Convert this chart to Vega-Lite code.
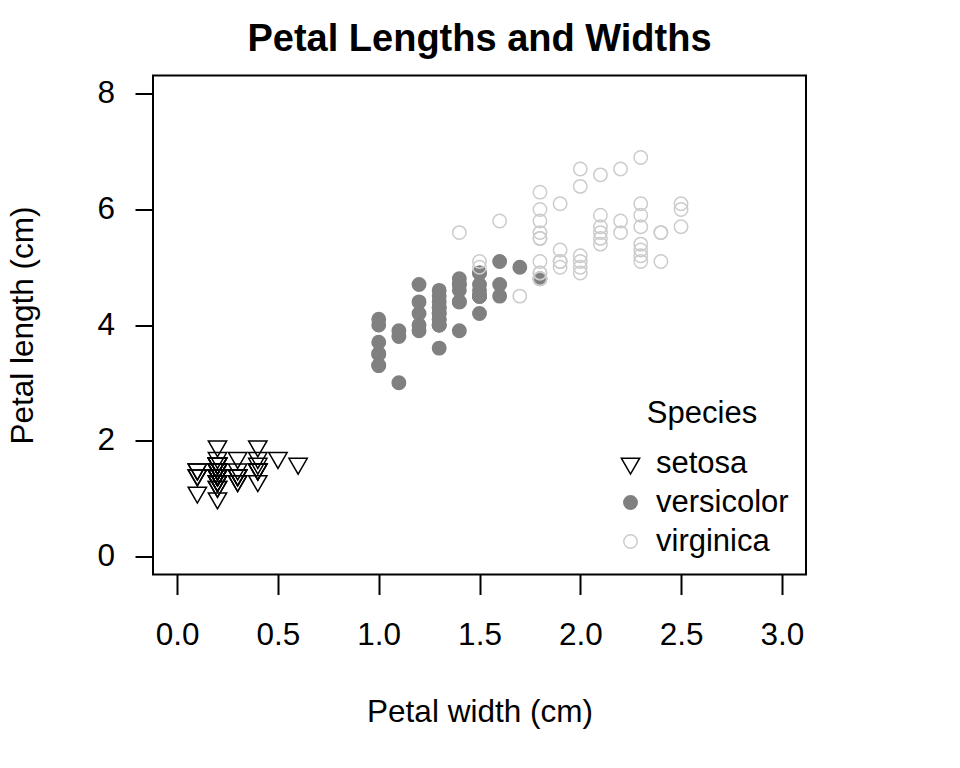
{
  "$schema": "https://vega.github.io/schema/vega-lite/v6.json",
  "width": 653,
  "height": 499,
  "autosize": {"type": "none"},
  "padding": {"left": 153, "top": 75.5, "right": 154, "bottom": 193.5},
  "background": "white",
  "config": {
    "font": "Liberation Sans",
    "view": {"stroke": "black", "strokeWidth": 2},
    "axis": {"grid": false, "domain": false, "tickColor": "black", "tickWidth": 2, "labelColor": "black", "titleColor": "black", "labelFontSize": 31.5, "titleFontSize": 31.5, "titleFontWeight": "normal", "labelFont": "Liberation Sans", "titleFont": "Liberation Sans"}
  },
  "title": {"text": "Petal Lengths and Widths", "fontSize": 38, "fontWeight": "bold", "font": "Liberation Sans", "color": "black", "anchor": "middle", "baseline": "alphabetic", "offset": -13.5},
  "data": {"values": [
    {"Species":"setosa","w":0.2,"l":1.4},{"Species":"setosa","w":0.2,"l":1.4},{"Species":"setosa","w":0.2,"l":1.3},{"Species":"setosa","w":0.2,"l":1.5},{"Species":"setosa","w":0.2,"l":1.4},
    {"Species":"setosa","w":0.4,"l":1.7},{"Species":"setosa","w":0.3,"l":1.4},{"Species":"setosa","w":0.2,"l":1.5},{"Species":"setosa","w":0.2,"l":1.4},{"Species":"setosa","w":0.1,"l":1.5},
    {"Species":"setosa","w":0.2,"l":1.5},{"Species":"setosa","w":0.2,"l":1.6},{"Species":"setosa","w":0.1,"l":1.4},{"Species":"setosa","w":0.1,"l":1.1},{"Species":"setosa","w":0.2,"l":1.2},
    {"Species":"setosa","w":0.4,"l":1.5},{"Species":"setosa","w":0.4,"l":1.3},{"Species":"setosa","w":0.3,"l":1.4},{"Species":"setosa","w":0.3,"l":1.7},{"Species":"setosa","w":0.3,"l":1.5},
    {"Species":"setosa","w":0.2,"l":1.7},{"Species":"setosa","w":0.4,"l":1.5},{"Species":"setosa","w":0.2,"l":1.0},{"Species":"setosa","w":0.5,"l":1.7},{"Species":"setosa","w":0.2,"l":1.9},
    {"Species":"setosa","w":0.2,"l":1.6},{"Species":"setosa","w":0.4,"l":1.6},{"Species":"setosa","w":0.2,"l":1.5},{"Species":"setosa","w":0.2,"l":1.4},{"Species":"setosa","w":0.2,"l":1.6},
    {"Species":"setosa","w":0.2,"l":1.6},{"Species":"setosa","w":0.4,"l":1.5},{"Species":"setosa","w":0.1,"l":1.5},{"Species":"setosa","w":0.2,"l":1.4},{"Species":"setosa","w":0.2,"l":1.5},
    {"Species":"setosa","w":0.2,"l":1.2},{"Species":"setosa","w":0.2,"l":1.3},{"Species":"setosa","w":0.1,"l":1.4},{"Species":"setosa","w":0.2,"l":1.3},{"Species":"setosa","w":0.2,"l":1.5},
    {"Species":"setosa","w":0.3,"l":1.3},{"Species":"setosa","w":0.3,"l":1.3},{"Species":"setosa","w":0.2,"l":1.3},{"Species":"setosa","w":0.6,"l":1.6},{"Species":"setosa","w":0.4,"l":1.9},
    {"Species":"setosa","w":0.3,"l":1.4},{"Species":"setosa","w":0.2,"l":1.6},{"Species":"setosa","w":0.2,"l":1.4},{"Species":"setosa","w":0.2,"l":1.5},{"Species":"setosa","w":0.2,"l":1.4},
    {"Species":"versicolor","w":1.4,"l":4.7},{"Species":"versicolor","w":1.5,"l":4.5},{"Species":"versicolor","w":1.5,"l":4.9},{"Species":"versicolor","w":1.3,"l":4.0},{"Species":"versicolor","w":1.5,"l":4.6},
    {"Species":"versicolor","w":1.3,"l":4.5},{"Species":"versicolor","w":1.6,"l":4.7},{"Species":"versicolor","w":1.0,"l":3.3},{"Species":"versicolor","w":1.3,"l":4.6},{"Species":"versicolor","w":1.4,"l":3.9},
    {"Species":"versicolor","w":1.0,"l":3.5},{"Species":"versicolor","w":1.5,"l":4.2},{"Species":"versicolor","w":1.0,"l":4.0},{"Species":"versicolor","w":1.4,"l":4.7},{"Species":"versicolor","w":1.3,"l":3.6},
    {"Species":"versicolor","w":1.4,"l":4.4},{"Species":"versicolor","w":1.5,"l":4.5},{"Species":"versicolor","w":1.0,"l":4.1},{"Species":"versicolor","w":1.5,"l":4.5},{"Species":"versicolor","w":1.1,"l":3.9},
    {"Species":"versicolor","w":1.8,"l":4.8},{"Species":"versicolor","w":1.3,"l":4.0},{"Species":"versicolor","w":1.5,"l":4.9},{"Species":"versicolor","w":1.2,"l":4.7},{"Species":"versicolor","w":1.3,"l":4.3},
    {"Species":"versicolor","w":1.4,"l":4.4},{"Species":"versicolor","w":1.4,"l":4.8},{"Species":"versicolor","w":1.7,"l":5.0},{"Species":"versicolor","w":1.5,"l":4.5},{"Species":"versicolor","w":1.0,"l":3.5},
    {"Species":"versicolor","w":1.1,"l":3.8},{"Species":"versicolor","w":1.0,"l":3.7},{"Species":"versicolor","w":1.2,"l":3.9},{"Species":"versicolor","w":1.6,"l":5.1},{"Species":"versicolor","w":1.5,"l":4.5},
    {"Species":"versicolor","w":1.6,"l":4.5},{"Species":"versicolor","w":1.5,"l":4.7},{"Species":"versicolor","w":1.3,"l":4.4},{"Species":"versicolor","w":1.3,"l":4.1},{"Species":"versicolor","w":1.3,"l":4.0},
    {"Species":"versicolor","w":1.2,"l":4.4},{"Species":"versicolor","w":1.4,"l":4.6},{"Species":"versicolor","w":1.2,"l":4.0},{"Species":"versicolor","w":1.0,"l":3.3},{"Species":"versicolor","w":1.3,"l":4.2},
    {"Species":"versicolor","w":1.2,"l":4.2},{"Species":"versicolor","w":1.3,"l":4.2},{"Species":"versicolor","w":1.3,"l":4.3},{"Species":"versicolor","w":1.1,"l":3.0},{"Species":"versicolor","w":1.3,"l":4.1},
    {"Species":"virginica","w":2.5,"l":6.0},{"Species":"virginica","w":1.9,"l":5.1},{"Species":"virginica","w":2.1,"l":5.9},{"Species":"virginica","w":1.8,"l":5.6},{"Species":"virginica","w":2.2,"l":5.8},
    {"Species":"virginica","w":2.1,"l":6.6},{"Species":"virginica","w":1.7,"l":4.5},{"Species":"virginica","w":1.8,"l":6.3},{"Species":"virginica","w":1.8,"l":5.8},{"Species":"virginica","w":2.5,"l":6.1},
    {"Species":"virginica","w":2.0,"l":5.1},{"Species":"virginica","w":1.9,"l":5.3},{"Species":"virginica","w":2.1,"l":5.5},{"Species":"virginica","w":2.0,"l":5.0},{"Species":"virginica","w":2.4,"l":5.1},
    {"Species":"virginica","w":2.3,"l":5.3},{"Species":"virginica","w":1.8,"l":5.5},{"Species":"virginica","w":2.2,"l":6.7},{"Species":"virginica","w":2.3,"l":6.9},{"Species":"virginica","w":1.5,"l":5.0},
    {"Species":"virginica","w":2.3,"l":5.7},{"Species":"virginica","w":2.0,"l":4.9},{"Species":"virginica","w":2.0,"l":6.7},{"Species":"virginica","w":1.8,"l":4.9},{"Species":"virginica","w":2.1,"l":5.7},
    {"Species":"virginica","w":1.8,"l":6.0},{"Species":"virginica","w":1.8,"l":4.8},{"Species":"virginica","w":1.8,"l":4.9},{"Species":"virginica","w":2.1,"l":5.6},{"Species":"virginica","w":1.6,"l":5.8},
    {"Species":"virginica","w":1.9,"l":6.1},{"Species":"virginica","w":2.0,"l":6.4},{"Species":"virginica","w":2.2,"l":5.6},{"Species":"virginica","w":1.5,"l":5.1},{"Species":"virginica","w":1.4,"l":5.6},
    {"Species":"virginica","w":2.3,"l":6.1},{"Species":"virginica","w":2.4,"l":5.6},{"Species":"virginica","w":1.8,"l":5.5},{"Species":"virginica","w":1.8,"l":4.8},{"Species":"virginica","w":2.1,"l":5.4},
    {"Species":"virginica","w":2.4,"l":5.6},{"Species":"virginica","w":2.3,"l":5.1},{"Species":"virginica","w":1.9,"l":5.1},{"Species":"virginica","w":2.3,"l":5.9},{"Species":"virginica","w":2.5,"l":5.7},
    {"Species":"virginica","w":2.3,"l":5.2},{"Species":"virginica","w":1.9,"l":5.0},{"Species":"virginica","w":2.0,"l":5.2},{"Species":"virginica","w":2.3,"l":5.4},{"Species":"virginica","w":1.8,"l":5.1}
  ]},
  "mark": {"type": "point", "strokeWidth": 1.5, "opacity": 1, "size": 180},
  "encoding": {
    "x": {"field": "w", "type": "quantitative", "title": "Petal width (cm)",
      "scale": {"domain": [-0.12, 3.12], "nice": false, "zero": false},
      "axis": {"values": [0, 0.5, 1, 1.5, 2, 2.5, 3], "format": ".1f", "tickSize": 20, "labelPadding": 25, "labelFlush": false, "labelOverlap": false, "titleX": 326.5, "titleY": 147.4, "titleBaseline": "alphabetic", "titleAnchor": null}},
    "y": {"field": "l", "type": "quantitative", "title": "Petal length (cm)",
      "scale": {"domain": [-0.32, 8.32], "nice": false, "zero": false},
      "axis": {"values": [0, 2, 4, 6, 8], "format": "d", "tickSize": 18, "labelPadding": 20.5, "labelAngle": 0, "labelFlush": false, "labelOverlap": false, "titleAngle": -90, "titleX": -121, "titleY": 249.5, "titleBaseline": "alphabetic", "titleAlign": "center"}},
    "shape": {"field": "Species", "type": "nominal", "scale": {"domain": ["setosa", "versicolor", "virginica"], "range": ["M-1.365,-0.788L1.365,-0.788L0,1.576Z", "circle", "circle"]},
      "legend": {"title": "Species", "orient": "none", "legendX": 462, "legendY": 323.5, "padding": 0, "titleFontSize": 31, "titleFontWeight": "normal", "titleFont": "Liberation Sans", "titleColor": "black", "titleAnchor": "middle", "titlePadding": 18, "labelFontSize": 31, "labelFont": "Liberation Sans", "labelColor": "black", "labelOffset": 10, "rowPadding": 7, "symbolStrokeWidth": 1.5, "symbolSize": 180}},
    "fill": {"field": "Species", "type": "nominal", "scale": {"domain": ["setosa", "versicolor", "virginica"], "range": ["transparent", "#808080", "transparent"]}},
    "stroke": {"field": "Species", "type": "nominal", "scale": {"domain": ["setosa", "versicolor", "virginica"], "range": ["#000000", "#808080", "#cccccc"]}}
  }
}
